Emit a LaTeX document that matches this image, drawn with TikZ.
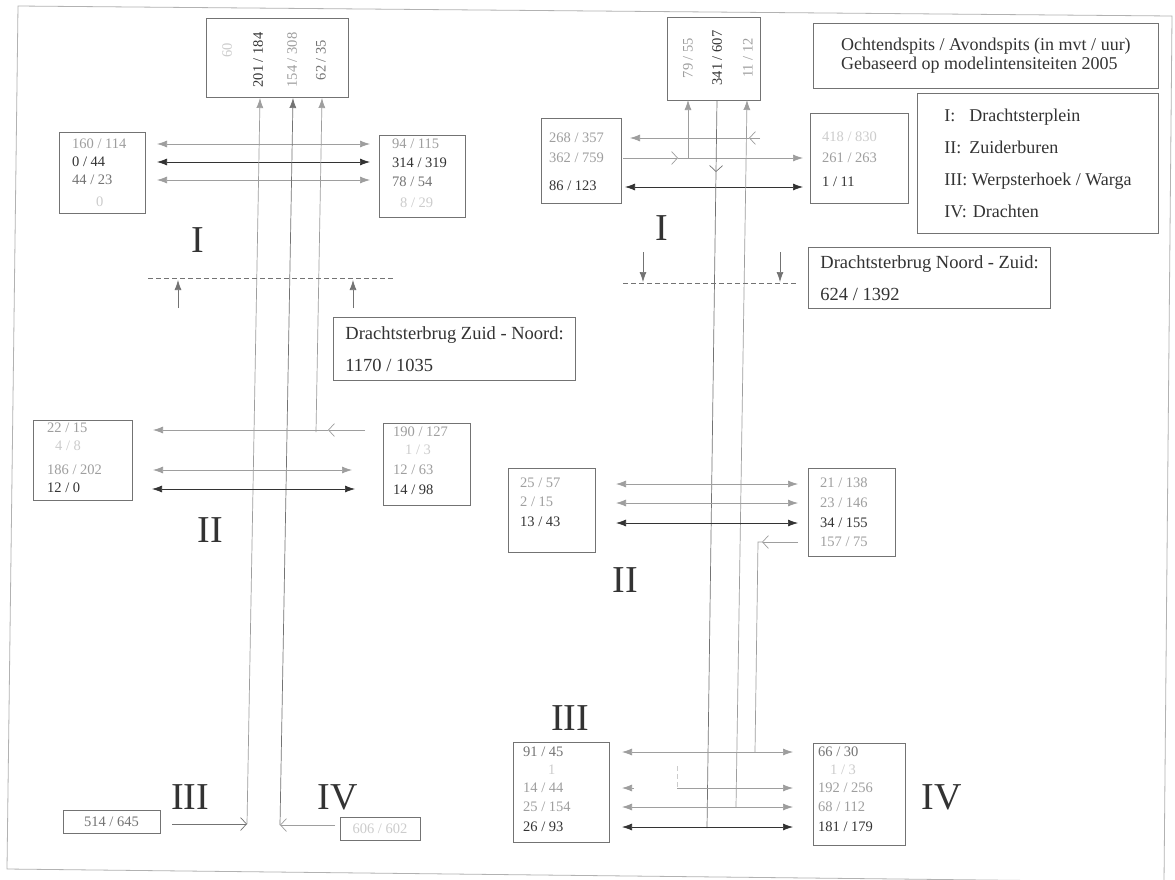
\documentclass[tikz,border=0pt]{standalone}
\usepackage{fontspec}
\setmainfont{Liberation Serif}
\usetikzlibrary{arrows.meta}
\definecolor{ink}{gray}{0.2}
\definecolor{mid}{gray}{0.45}
\definecolor{lite}{gray}{0.62}
\definecolor{faint}{gray}{0.8}
\definecolor{frm}{gray}{0.7}
\tikzset{
  box/.style={draw=mid, line width=0.8pt, inner sep=0pt},
  num/.style={font=\fontsize{14.5}{16}\selectfont, anchor=west, inner sep=0pt},
  vnum/.style={font=\fontsize{14.5}{16}\selectfont, rotate=90, inner sep=0pt},
  roman/.style={font=\fontsize{38}{40}\selectfont, text=ink, inner sep=0pt},
  txt/.style={font=\fontsize{18.5}{22}\selectfont, text=ink, align=left},
  ln/.style={line width=0.7pt},
  >={Latex[length=10pt,width=7pt]},
  barb/.style={-{Straight Barb[length=6pt,width=13pt]}},
  dsh/.style={dash pattern=on 5pt off 3pt, line width=0.7pt}
}
\begin{document}
\begin{tikzpicture}[x=1pt,y=-1pt]
\useasboundingbox (0,0) rectangle (1175,879);
\fill[white] (0,0) rectangle (1175,879);
% frame
\draw[frm, line width=0.8pt] (18,6) -- (1172,16) -- (1164,882) -- (7,869) -- cycle;

% ================= LEFT HALF =================
% top box
\node[box, minimum width=142, minimum height=79] (TL) at (277,57.5) {};
\node[vnum, text=faint] (tl1) at (227,50) {60};
\node[vnum, text=ink] (tl2) at (258,60) {201 / 184};
\node[vnum, text=lite] (tl3) at (292,60) {154 / 308};
\node[vnum, text=mid] (tl4) at (321,60) {62 / 35};

% row I boxes
\node[box, minimum width=86, minimum height=81] (LIL) at (102,172.5) {};
\node[num, text=lite] (lil1) at (72,144) {160 / 114};
\node[num, text=ink] (lil2) at (72,162) {0 / 44};
\node[num, text=mid] (lil3) at (72,180) {44 / 23};
\node[num, text=faint] (lil4) at (96,202) {0};
\node[box, minimum width=86, minimum height=82] (LIR) at (422,176) {};
\node[num, text=lite] (lir1) at (392,144) {94 / 115};
\node[num, text=ink] (lir2) at (392,163) {314 / 319};
\node[num, text=mid] (lir3) at (392,182) {78 / 54};
\node[num, text=faint] (lir4) at (400,203) {8 / 29};

\node[roman] (LI) at (198,240) {I};

% row I arrows
\coordinate (a1l) at (157,144); \coordinate (a1r) at (370,144);
\coordinate (a2l) at (157,162); \coordinate (a2r) at (370,162);
\coordinate (a3l) at (157,180); \coordinate (a3r) at (370,180);
\draw[lite, ln, <->] (a1l) -- (a1r);
\draw[ink, ln, <->] (a2l) -- (a2r);
\draw[lite, ln, <->] (a3l) -- (a3r);

% verticals
\coordinate (v1b) at (247,824); \coordinate (v1t) at (260,98);
\coordinate (v2b) at (280,825); \coordinate (v2t) at (293,98);
\coordinate (v3b) at (316,432); \coordinate (v3t) at (322,98);
\draw[lite, ln, ->] (v1b) -- (v1t);
\draw[mid, ln, ->] (v2b) -- (v2t);
\draw[lite, ln, ->] (v3b) -- (v3t);

% Drachtsterbrug Zuid - Noord
\coordinate (d1l) at (148,278); \coordinate (d1r) at (395,278);
\draw[mid, dsh] (d1l) -- (d1r);
\coordinate (e1b) at (178,308); \coordinate (e1t) at (178,280);
\coordinate (e2b) at (353,308); \coordinate (e2t) at (353,280);
\draw[mid, ln, ->] (e1b) -- (e1t);
\draw[mid, ln, ->] (e2b) -- (e2t);
\node[box, txt, anchor=north west, inner xsep=12pt, inner ysep=9pt] (DZN) at (333,317)
  {Drachtsterbrug Zuid - Noord:\\[10pt]1170 / 1035};

% row II boxes
\node[box, minimum width=99, minimum height=80] (LIIL) at (82.5,460) {};
\node[num, text=lite] (l2l1) at (47,428) {22 / 15};
\node[num, text=faint] (l2l2) at (55,446) {4 / 8};
\node[num, text=lite] (l2l3) at (47,470) {186 / 202};
\node[num, text=ink] (l2l4) at (47,488) {12 / 0};
\node[box, minimum width=87, minimum height=82] (LIIR) at (426.5,464) {};
\node[num, text=lite] (l2r1) at (393,432) {190 / 127};
\node[num, text=faint] (l2r2) at (405,450) {1 / 3};
\node[num, text=lite] (l2r3) at (393,470) {12 / 63};
\node[num, text=ink] (l2r4) at (393,490) {14 / 98};

\node[roman] (LII) at (210,530) {II};

% row II arrows
\coordinate (b1r) at (365,430); \coordinate (b1m) at (328,430); \coordinate (b1l) at (153,430);
\draw[lite, ln, barb] (b1r) -- (b1m);
\draw[lite, ln, ->] (b1m) -- (b1l);
\coordinate (b2l) at (153,470); \coordinate (b2r) at (352,470);
\coordinate (b3l) at (152,489); \coordinate (b3r) at (355,489);
\draw[lite, ln, <->] (b2l) -- (b2r);
\draw[ink, ln, <->] (b3l) -- (b3r);

% bottom left
\node[roman] (LIII) at (190,797) {III};
\node[roman] (LIV) at (338,797) {IV};
\node[box, minimum width=97, minimum height=23] (B514) at (111.5,821.5) {};
\node[num, text=mid] (t514) at (B514) [anchor=center] {514 / 645};
\node[box, minimum width=80, minimum height=23] (B606) at (380,828.5) {};
\node[num, text=faint] (t606) at (B606) [anchor=center] {606 / 602};
\coordinate (c1s) at (172,824);
\coordinate (c2s) at (335,825);
\draw[mid, ln, barb] (c1s) -- (v1b);
\draw[lite, ln, barb] (c2s) -- (v2b);

% ================= RIGHT HALF =================
\node[box, minimum width=93, minimum height=83] (TR) at (713.5,58.5) {};
\node[vnum, text=lite] (tr1) at (688,58) {79 / 55};
\node[vnum, text=ink] (tr2) at (717,58) {341 / 607};
\node[vnum, text=lite] (tr3) at (748,58) {11 / 12};

% legend
\node[box, txt, anchor=north west, inner xsep=6pt, inner ysep=9pt, minimum width=345, minimum height=65, font=\fontsize{18}{19}\selectfont] (LEG) at (813,23)
  {Ochtendspits / Avondspits (in mvt / uur)\\Gebaseerd op modelintensiteiten 2005};
\node[box, txt, anchor=north west, inner xsep=15pt, inner ysep=10pt, minimum width=241, minimum height=140, font=\fontsize{18}{20}\selectfont] (KEY) at (917,93)
  {I:\hspace{14pt}Drachtsterplein\\[12pt]II:\hspace{8pt}Zuiderburen\\[12pt]III: Werpsterhoek / Warga\\[12pt]IV:\hspace{6pt}Drachten};

% row I boxes right
\node[box, minimum width=80, minimum height=85] (RIL) at (581,160.5) {};
\node[num, text=lite] (ril1) at (549,138) {268 / 357};
\node[num, text=lite] (ril2) at (549,158) {362 / 759};
\node[num, text=ink] (ril3) at (549,186) {86 / 123};
\node[box, minimum width=98, minimum height=90] (RIR) at (859,158) {};
\node[num, text=faint] (rir1) at (822,137) {418 / 830};
\node[num, text=lite] (rir2) at (822,158) {261 / 263};
\node[num, text=ink] (rir3) at (822,182) {1 / 11};

\node[roman] (RI) at (662,228) {I};

% row I arrows right
\coordinate (f1s) at (760,138); \coordinate (f1m) at (749,138); \coordinate (f1e) at (630,138);
\draw[lite, ln, barb] (f1s) -- (f1m);
\draw[lite, ln, ->] (f1m) -- (f1e);
\coordinate (f2s) at (623,158); \coordinate (f2m) at (678,158); \coordinate (f2j) at (688,158); \coordinate (f2e) at (803,158);
\draw[lite, ln, barb] (f2s) -- (f2m);
\draw[lite, ln, ->] (f2m) -- (f2e);
\coordinate (g1t) at (688,100);
\draw[lite, ln, ->] (f2j) -- (g1t);
\coordinate (f3l) at (625,187); \coordinate (f3r) at (803,187);
\draw[ink, ln, <->] (f3l) -- (f3r);

% verticals right
\coordinate (h1t) at (717,100); \coordinate (h1m) at (716,172); \coordinate (h1b) at (707,828);
\draw[mid, ln, barb] (h1t) -- (h1m);
\draw[mid, ln] (h1m) -- (h1b);
\coordinate (h2b) at (736,807); \coordinate (h2t) at (747,100);
\draw[lite, ln, ->] (h2b) -- (h2t);
\coordinate (h3s) at (798,542); \coordinate (h3m) at (762,542); \coordinate (h3j) at (758,542); \coordinate (h3b) at (755,752);
\draw[lite, ln, barb] (h3s) -- (h3m);
\draw[lite, ln] (h3m) -- (h3j) -- (h3b);

% Drachtsterbrug Noord - Zuid
\coordinate (m1l) at (623,283); \coordinate (m1r) at (797,283);
\draw[mid, dsh] (m1l) -- (m1r);
\coordinate (n1t) at (643,252); \coordinate (n1b) at (643,282);
\coordinate (n2t) at (780,252); \coordinate (n2b) at (780,282);
\draw[mid, ln, ->] (n1t) -- (n1b);
\draw[mid, ln, ->] (n2t) -- (n2b);
\node[box, txt, anchor=north west, inner xsep=12pt, inner ysep=8pt] (DNZ) at (808,247)
  {Drachtsterbrug Noord - Zuid:\\[10pt]624 / 1392};

% row II boxes right
\node[box, minimum width=87, minimum height=84] (RIIL) at (551.5,510) {};
\node[num, text=lite] (r2l1) at (520,483) {25 / 57};
\node[num, text=lite] (r2l2) at (520,502) {2 / 15};
\node[num, text=ink] (r2l3) at (520,522) {13 / 43};
\node[box, minimum width=87, minimum height=88] (RIIR) at (851.5,512) {};
\node[num, text=lite] (r2r1) at (820,483) {21 / 138};
\node[num, text=lite] (r2r2) at (820,503) {23 / 146};
\node[num, text=ink] (r2r3) at (820,523) {34 / 155};
\node[num, text=lite] (r2r4) at (820,542) {157 / 75};

\node[roman] (RII) at (625,580) {II};

\coordinate (k1l) at (616,484); \coordinate (k1r) at (798,484);
\coordinate (k2l) at (616,503); \coordinate (k2r) at (798,503);
\coordinate (k3l) at (616,523); \coordinate (k3r) at (798,523);
\draw[lite, ln, <->] (k1l) -- (k1r);
\draw[lite, ln, <->] (k2l) -- (k2r);
\draw[ink, ln, <->] (k3l) -- (k3r);

% row III / IV right
\node[roman] (RIII) at (570,718) {III};
\node[roman] (RIV) at (942,797) {IV};
\node[box, minimum width=96, minimum height=100] (RIIIL) at (561,792) {};
\node[num, text=mid] (r3l1) at (523,752) {91 / 45};
\node[num, text=faint] (r3l2) at (548,770) {1};
\node[num, text=lite] (r3l3) at (523,788) {14 / 44};
\node[num, text=lite] (r3l4) at (523,807) {25 / 154};
\node[num, text=ink] (r3l5) at (523,827) {26 / 93};
\node[box, minimum width=92, minimum height=102] (RIVR) at (859,794) {};
\node[num, text=mid] (r4r1) at (818,752) {66 / 30};
\node[num, text=faint] (r4r2) at (830,770) {1 / 3};
\node[num, text=lite] (r4r3) at (818,788) {192 / 256};
\node[num, text=lite] (r4r4) at (818,807) {68 / 112};
\node[num, text=ink] (r4r5) at (818,827) {181 / 179};

\coordinate (p1l) at (622,752); \coordinate (p1r) at (793,752);
\draw[lite, ln, <->] (p1l) -- (p1r);
\coordinate (p2a) at (634,788); \coordinate (p2b) at (622,788);
\draw[lite, ln, ->] (p2a) -- (p2b);
\coordinate (p2s) at (677,788); \coordinate (p2r) at (793,788); \coordinate (p2d) at (677,766);
\draw[lite, ln, ->] (p2s) -- (p2r);
\draw[faint, dsh] (p2d) -- (p2s);
\coordinate (p3l) at (622,807); \coordinate (p3r) at (793,807);
\draw[lite, ln, <->] (p3l) -- (p3r);
\coordinate (p4l) at (622,827); \coordinate (p4r) at (793,827);
\draw[ink, ln, <->] (p4l) -- (p4r);
\end{tikzpicture}
\end{document}
